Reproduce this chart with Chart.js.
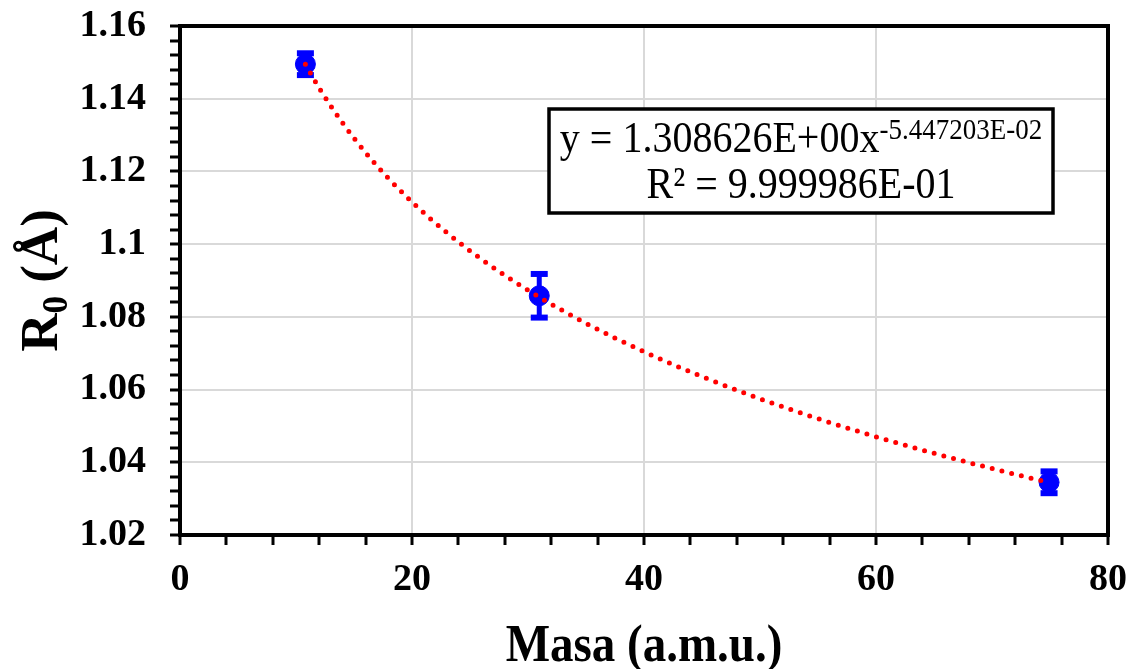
<!DOCTYPE html>
<html>
<head>
<meta charset="utf-8">
<script src="https://cdn.jsdelivr.net/npm/chart.js@4.4.1/dist/chart.umd.min.js"></script>
<style>
  html, body { margin: 0; padding: 0; background: #fff; }
</style>
</head>
<body>
<canvas id="myChart" width="1139" height="669"></canvas>
<script>
'use strict';

// measured points (mass in a.m.u., R0 in angstrom)
const masses = [10.81, 30.97, 74.92];
const radii = [1.1495, 1.0858, 1.0345];
const radiiErr = [0.003, 0.006, 0.003];

// power trend line
const fitMasses = [10.81, 12, 14, 16, 18, 20, 23, 26, 30, 35, 40, 45, 50, 55, 60, 65, 70, 74.92];
const fitRadii = [1.14948, 1.14296, 1.13340, 1.12519, 1.11799, 1.11160, 1.10316, 1.09582, 1.08731,
  1.07822, 1.07041, 1.06356, 1.05747, 1.05200, 1.04702, 1.04247, 1.03828, 1.03443];

const fitLine1 = 'y = 1.308626E+00x';
const fitExponent = '-5.447203E-02';
const fitLine2 = 'R² = 9.999986E-01';

const xTitle = 'Masa (a.m.u.)';
const serif = "'Liberation Serif', 'Times New Roman', serif";
const blue = '#0000ff',
  red = '#ff0000',
  gridGray = '#d9d9d9';

const isMajorX = v => Math.abs(v / 20 - Math.round(v / 20)) < 1e-6;
const isMajorY = v => Math.abs(v * 50 - Math.round(v * 50)) < 1e-6;

// text drawn with a small vertical stretch, like the reference
const stretchText = (ctx, text, x, y, font, align = 'left', sy = 1.12) => {
  ctx.save();
  ctx.font = font;
  ctx.textAlign = align;
  ctx.textBaseline = 'alphabetic';
  ctx.translate(x, y);
  ctx.scale(1, sy);
  ctx.fillText(text, 0, 0);
  ctx.restore();
}

const extrasPlugin = {
  id: 'extras',
  beforeDatasetsDraw(chart) {
    const { ctx, scales: { x, y } } = chart;
    ctx.save();
    ctx.strokeStyle = blue;
    ctx.fillStyle = blue;
    ctx.lineWidth = 5;
    masses.forEach((m, i) => {
      const px = x.getPixelForValue(m);
      const top = y.getPixelForValue(radii[i] + radiiErr[i]);
      const bot = y.getPixelForValue(radii[i] - radiiErr[i]);
      ctx.beginPath();
      ctx.moveTo(px, top);
      ctx.lineTo(px, bot);
      ctx.stroke();
      ctx.fillRect(px - 8.5, top - 3, 17, 6);
      ctx.fillRect(px - 8.5, bot - 3, 17, 6);
    });
    ctx.restore();
  },
  afterDraw(chart) {
    const { ctx, chartArea: a } = chart;
    ctx.save();

    // frame on top and right
    ctx.strokeStyle = '#000';
    ctx.lineWidth = 4;
    ctx.beginPath();
    ctx.moveTo(a.left - 2, a.top);
    ctx.lineTo(a.right, a.top);
    ctx.lineTo(a.right, a.bottom + 2);
    ctx.stroke();

    // equation box
    ctx.fillStyle = '#fff';
    ctx.fillRect(549, 109, 504, 104);
    ctx.lineWidth = 3.5;
    ctx.strokeRect(549, 109, 504, 104);

    ctx.fillStyle = '#000';
    const mainFont = `40px ${serif}`,
      supFont = `27px ${serif}`;
    ctx.font = mainFont;
    const w1 = ctx.measureText(fitLine1).width;
    ctx.font = supFont;
    const w2 = ctx.measureText(fitExponent).width;
    const cx = 801;
    const start = cx - (w1 + w2) / 2;
    stretchText(ctx, fitLine1, start, 152, mainFont);
    stretchText(ctx, fitExponent, start + w1, 139, supFont);
    stretchText(ctx, fitLine2, cx, 198, mainFont, 'center');

    // x axis title
    stretchText(ctx, xTitle, (a.left + a.right) / 2, 661, `bold 47px ${serif}`, 'center', 1.12);

    // y axis title, R with subscript 0
    const bigFont = `bold 53px ${serif}`,
      subFont = `bold 35px ${serif}`;
    ctx.font = bigFont;
    const wR = ctx.measureText('R').width;
    const wRest = ctx.measureText(' (Å)').width;
    ctx.font = subFont;
    const w0 = ctx.measureText('0').width;
    const total = wR + w0 + wRest;
    ctx.translate(57, (a.top + a.bottom) / 2);
    ctx.rotate(-Math.PI / 2);
    ctx.textBaseline = 'alphabetic';
    ctx.textAlign = 'left';
    let pos = -total / 2;
    ctx.font = bigFont;
    ctx.fillText('R', pos, 0);
    pos += wR;
    ctx.font = subFont;
    ctx.fillText('0', pos, 10);
    pos += w0;
    ctx.font = bigFont;
    ctx.fillText(' (Å)', pos, 0);

    ctx.restore();
  }
}

const ctx = document.getElementById('myChart').getContext('2d');

const chart = new Chart(ctx, {
  type: 'scatter',
  data: {
    datasets: [{
      label: 'trend',
      data: fitMasses.map((m, i) => ({ x: m, y: fitRadii[i] })),
      showLine: true,
      borderColor: red,
      borderWidth: 5,
      borderDash: [0, 10],
      borderCapStyle: 'round',
      cubicInterpolationMode: 'monotone',
      pointRadius: 0,
      order: 0
    }, {
      label: 'R0',
      data: masses.map((m, i) => ({ x: m, y: radii[i] })),
      backgroundColor: blue,
      borderColor: blue,
      pointRadius: 10,
      pointBorderWidth: 1,
      order: 1
    }]
  },
  options: {
    responsive: false,
    animation: false,
    devicePixelRatio: 1,
    layout: { padding: { top: 26, right: 31, left: 0, bottom: 0 } },
    plugins: {
      legend: { display: false },
      tooltip: { enabled: false }
    },
    scales: {
      x: {
        type: 'linear',
        min: 0,
        max: 80,
        afterFit: scale => {
          scale.height = 134;
          scale.paddingLeft = 0;
          scale.paddingRight = 0;
        },
        border: { display: true, color: '#000', width: 4 },
        grid: {
          color: c => isMajorX(c.tick.value) && c.tick.value > 0 && c.tick.value < 80 ? gridGray : 'rgba(0,0,0,0)',
          lineWidth: 2,
          tickColor: '#000',
          tickWidth: 3,
          tickLength: 10
        },
        ticks: {
          stepSize: 4,
          autoSkip: false,
          maxRotation: 0,
          padding: 12,
          color: '#000',
          font: { family: serif, size: 38, weight: 'bold' },
          callback: v => isMajorX(v) ? String(v) : ''
        }
      },
      y: {
        type: 'linear',
        min: 1.02,
        max: 1.16,
        afterFit: scale => {
          scale.width = 180;
          scale.paddingTop = 0;
          scale.paddingBottom = 0;
        },
        border: { display: true, color: '#000', width: 4 },
        grid: {
          color: c => isMajorY(c.tick.value) && c.tick.value > 1.021 ? gridGray : 'rgba(0,0,0,0)',
          lineWidth: 2,
          tickColor: '#000',
          tickWidth: 3,
          tickLength: 10
        },
        ticks: {
          stepSize: 0.004,
          autoSkip: false,
          padding: 24,
          color: '#000',
          font: { family: serif, size: 38, weight: 'bold' },
          callback: v => isMajorY(v) ? String(+v.toFixed(2)) : ''
        }
      }
    }
  },
  plugins: [extrasPlugin]
});
</script>
</body>
</html>
